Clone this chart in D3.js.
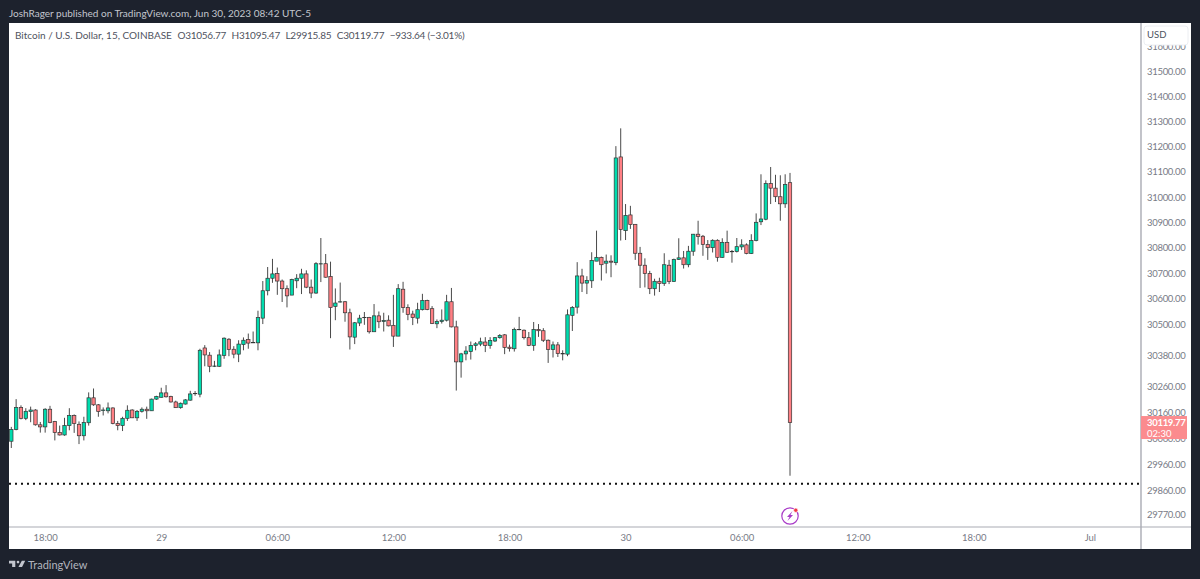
<!DOCTYPE html>
<html>
<head>
<meta charset="utf-8">
<script src="https://cdn.jsdelivr.net/npm/d3@7"></script>
<style>
  html, body { margin: 0; padding: 0; background: #1d222d; overflow: hidden; }
  text { font-family: Lato, "Open Sans", sans-serif; }
</style>
</head>
<body>
<svg id="chart" width="1200" height="579"></svg>
<script>
// 15 minute candles, Jun 28 16:15 to Jun 30 08:30
const opens = [30048,30093,30178,30136,30162,30168,30111,30103,30171,30124,30081,30072,30108,30147,30113,30069,30119,30215,30188,30166,30165,30176,30116,30108,30136,30168,30138,30163,30171,30165,30210,30217,30234,30220,30199,30177,30191,30206,30232,30229,30408,30380,30338,30337,30379,30442,30403,30384,30421,30441,30429,30428,30524,30631,30680,30698,30669,30639,30614,30670,
  30680,30697,30645,30622,30737,30737,30687,30570,30588,30588,30545,30450,30505,30527,30527,30471,30533,30511,30516,30496,30454,30637,30565,30540,30524,30557,30593,30561,30502,30511,30516,30588,30490,30354,30385,30394,30418,30423,30431,30418,30435,30448,30459,30411,30405,30480,30477,30448,30418,30480,30475,30438,30402,30420,30386,30384,30535,30567,30689,30661,
  30670,30747,30762,30739,30747,30741,31159,30867,30929,30892,30778,30731,30698,30639,30668,30660,30731,30667,30754,30760,30733,30786,30853,30845,30812,30800,30829,30762,30821,30785,30785,30803,30811,30777,30828,30902,30912,31053,31035,31001,30973,31056.77]
const highs = [30103,30210,30186,30175,30181,30171,30122,30175,30184,30126,30108,30138,30175,30151,30124,30142,30236,30251,30191,30178,30197,30178,30126,30142,30186,30171,30168,30178,30181,30212,30223,30254,30264,30223,30204,30197,30210,30242,30241,30405,30419,30392,30358,30402,30449,30446,30415,30438,30449,30464,30472,30553,30669,30724,30756,30722,30675,30652,30678,30696,
  30717,30711,30675,30743,30838,30775,30745,30640,30663,30591,30561,30509,30537,30548,30529,30579,30550,30545,30535,30615,30657,30666,30578,30553,30584,30619,30596,30571,30519,30558,30615,30642,30514,30389,30415,30433,30431,30448,30450,30450,30450,30462,30462,30421,30487,30529,30480,30470,30509,30501,30485,30441,30433,30431,30399,30558,30571,30743,30717,30688,
  30782,30867,30765,30773,30770,31202,31273,30972,30965,30893,30803,30758,30709,30678,30682,30778,30752,30757,30837,30787,30807,30854,30906,30850,30830,30833,30833,30837,30867,30791,30838,30833,30817,30853,30935,31090,31066,31119,31088,31086,31090,31095.47]
const lows = [30022,30090,30132,30129,30121,30108,30081,30081,30117,30051,30070,30069,30090,30080,30037,30051,30108,30184,30142,30147,30155,30113,30090,30087,30126,30137,30126,30158,30134,30165,30207,30216,30216,30197,30176,30173,30189,30204,30223,30217,30337,30314,30334,30334,30366,30376,30368,30353,30399,30405,30428,30399,30501,30613,30662,30615,30587,30566,30614,30641,
  30618,30641,30602,30619,30665,30682,30446,30516,30585,30510,30402,30423,30493,30498,30464,30471,30485,30472,30492,30412,30454,30545,30516,30497,30503,30554,30555,30501,30485,30503,30511,30488,30243,30293,30360,30363,30399,30415,30392,30405,30431,30444,30384,30394,30394,30477,30441,30415,30397,30451,30431,30350,30371,30373,30360,30376,30474,30542,30626,30618,
  30642,30747,30671,30699,30684,30731,30828,30830,30874,30752,30642,30644,30618,30612,30626,30650,30657,30667,30752,30718,30723,30768,30812,30768,30752,30781,30745,30760,30779,30741,30781,30791,30774,30775,30825,30889,30908,30972,30980,30906,30957,29915.85]
const closes = [30093,30178,30136,30163,30168,30111,30103,30171,30120,30081,30072,30108,30147,30116,30069,30120,30215,30188,30162,30168,30176,30116,30108,30136,30167,30138,30163,30171,30165,30210,30220,30234,30219,30199,30177,30194,30207,30230,30231,30399,30381,30337,30338,30381,30446,30402,30384,30423,30438,30427,30429,30526,30631,30680,30697,30669,30639,30611,30675,30680,
  30697,30645,30622,30737,30737,30684,30565,30583,30588,30545,30451,30506,30524,30527,30471,30533,30510,30515,30494,30454,30639,30565,30538,30526,30557,30593,30558,30503,30511,30516,30588,30490,30354,30385,30396,30418,30424,30432,30418,30437,30448,30457,30410,30406,30480,30480,30448,30418,30480,30475,30438,30402,30420,30386,30386,30537,30566,30689,30661,30671,
  30750,30762,30733,30747,30743,31155,30872,30927,30891,30778,30731,30698,30639,30668,30660,30733,30667,30754,30760,30733,30786,30853,30844,30813,30800,30829,30762,30821,30782,30785,30804,30811,30777,30828,30900,30913,31053,31035,31001,30973,31050,30119.77]

const priceTicks = [31600,31500,31400,31300,31200,31100,31000,30900,30800,30700,30600,30500,30380,30260,30160,30060,29960,29860,29770]
const timeTickIndex = [7,31,55,79,103,127,151,175,199,223]
const timeTickLabels = ["18:00","29","06:00","12:00","18:00","30","06:00","12:00","18:00","Jul"]
const lastPrice = closes[closes.length - 1]
const markerPrice = 29885 // the dotted line

const greenFill = "#00dcae"
const redFill = "#ff7f84"
const candleLine = "#333"

const plotLeft = 9, plotRight = 1141, plotTop = 23, plotBottom = 527
const frameRight = 1191, frameBottom = 549

const svg = d3.select("#chart")

// price axis is logarithmic, the tick gaps shrink towards the top
const x = d3.scaleLinear().domain([0, 161]).range([11.3, 790])
const y = d3.scaleLog().domain([29770, 31500]).range([514, 71.7])

svg.append("rect")
  .attr("x", plotLeft).attr("y", plotTop)
  .attr("width", frameRight - plotLeft).attr("height", frameBottom - plotTop)
  .attr("fill", "#fff")

// header line above the chart
svg.append("text")
  .attr("x", 9).attr("y", 16.5)
  .attr("fill", "#c3c6ce").attr("font-size", 10)
  .text("JoshRager published on TradingView.com, Jun 30, 2023 08:42 UTC-5")

// axes
const yAxis = d3.axisRight(y)
  .tickValues(priceTicks)
  .tickFormat(d3.format(".2f"))
  .tickSize(0).tickPadding(6)

const yAxisG = svg.append("g")
  .attr("transform", `translate(${plotRight},0)`)
  .call(yAxis)
yAxisG.select(".domain").remove()
yAxisG.selectAll("text")
  .attr("fill", "#787b86").attr("font-size", 9.5).attr("letter-spacing", -0.3)
  .style("font-family", "Lato, sans-serif")

const xAxis = d3.axisBottom(x)
  .tickValues(timeTickIndex)
  .tickFormat((d, i) => timeTickLabels[i])
  .tickSize(0).tickPadding(7)

const xAxisG = svg.append("g")
  .attr("transform", `translate(0,${plotBottom})`)
  .call(xAxis)
xAxisG.select(".domain").remove()
xAxisG.selectAll("text")
  .attr("fill", "#787b86").attr("font-size", 9.5)
  .style("font-family", "Lato, sans-serif")

// separators
svg.append("line")
  .attr("x1", plotRight).attr("x2", plotRight)
  .attr("y1", plotTop).attr("y2", frameBottom)
  .attr("stroke", "#9a9ca6").attr("stroke-width", 1.2)
svg.append("line")
  .attr("x1", plotLeft).attr("x2", frameRight)
  .attr("y1", plotBottom).attr("y2", plotBottom)
  .attr("stroke", "#a9abb3").attr("stroke-width", 1.2)

// USD box sits over the clipped top tick
svg.append("rect")
  .attr("x", 1144).attr("y", 26)
  .attr("width", 44).attr("height", 19).attr("rx", 3)
  .attr("fill", "#fff").attr("stroke", "#eceef2")
svg.append("text")
  .attr("x", 1147).attr("y", 38)
  .attr("fill", "#4c525e").attr("font-size", 9.5)
  .text("USD")

// legend
const legend = svg.append("text")
  .attr("x", 15).attr("y", 38.5)
  .attr("fill", "#50535e").attr("font-size", 10)
legend.append("tspan").text("Bitcoin / U.S. Dollar, 15, COINBASE")
const legendValues = ["O31056.77", "H31095.47", "L29915.85", "C30119.77", "−933.64 (−3.01%)"]
legendValues.forEach(v => legend.append("tspan").attr("dx", 5.5).attr("letter-spacing", -0.25).text(v))

// dotted line
svg.append("line")
  .attr("x1", plotLeft).attr("x2", plotRight)
  .attr("y1", y(markerPrice)).attr("y2", y(markerPrice))
  .attr("stroke", "#111").attr("stroke-width", 2)
  .attr("stroke-dasharray", "2 4")

// candles
const candles = svg.append("g")
  .selectAll("g")
  .data(closes.map((c, i) => ({ i, o: opens[i], h: highs[i], l: lows[i], c })))
  .join("g")

candles.append("line")
  .attr("x1", d => x(d.i)).attr("x2", d => x(d.i))
  .attr("y1", d => y(d.h)).attr("y2", d => y(d.l))
  .attr("stroke", "#4a4a4a").attr("stroke-width", 1)

candles.append("rect")
  .attr("x", d => x(d.i) - 1.7)
  .attr("y", d => y(Math.max(d.o, d.c)))
  .attr("width", 3.4)
  .attr("height", d => Math.max(0.3, Math.abs(y(d.o) - y(d.c))))
  .attr("fill", d => d.c >= d.o ? greenFill : redFill)
  .attr("stroke", candleLine).attr("stroke-width", 0.7)

// last price tag
const tagY = y(lastPrice)
svg.append("rect")
  .attr("x", plotRight).attr("y", tagY - 6.5)
  .attr("width", 46).attr("height", 23)
  .attr("fill", "#fb8b8e")
svg.append("text")
  .attr("x", 1147).attr("y", tagY + 3.5)
  .attr("fill", "#fff").attr("font-size", 9.5).attr("font-weight", 700).attr("letter-spacing", -0.3)
  .text("30119.77")
svg.append("text")
  .attr("x", 1147).attr("y", tagY + 14)
  .attr("fill", "#fff").attr("font-size", 9.5)
  .text("02:30")

// lightning marker under the last candle
const marker = svg.append("g").attr("transform", `translate(${x(161)},516)`)
marker.append("circle")
  .attr("r", 8.2).attr("fill", "#fff")
  .attr("stroke", "#a93cc8").attr("stroke-width", 1.2)
marker.append("path")
  .attr("d", "M2.5 -5 L-3 1 L-0.5 1 L-2.5 5 L3 -1 L0.5 -1 Z")
  .attr("fill", "#a93cc8")
marker.append("circle")
  .attr("cx", 5.8).attr("cy", -5.8).attr("r", 2.2)
  .attr("fill", "#f23645").attr("stroke", "#fff").attr("stroke-width", 0.8)

// footer logo
svg.append("path")
  .attr("transform", "translate(9,558) scale(0.45)")
  .attr("d", "M14 6H0v6h7v8h7V6Zm15 14h-8l7.5-14H36l-7 14Z")
  .attr("fill", "#c3c6ce")
svg.append("circle")
  .attr("cx", 9 + 20 * 0.45).attr("cy", 558 + 9 * 0.45).attr("r", 3 * 0.45)
  .attr("fill", "#c3c6ce")
svg.append("text")
  .attr("x", 28).attr("y", 569)
  .attr("fill", "#b2b5be").attr("font-size", 11)
  .text("TradingView")
</script>
</body>
</html>
